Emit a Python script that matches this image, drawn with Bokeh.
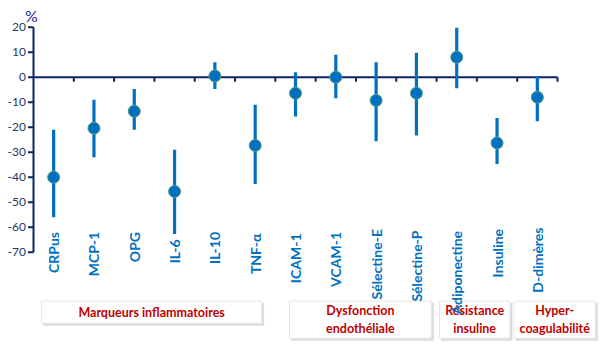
import math
from bokeh.plotting import figure
from bokeh.models import Range1d, ColumnDataSource
from bokeh.core.properties import value
from bokeh.embed import file_html
from bokeh.resources import INLINE

# ---- data ----
categories = ["CRPus", "MCP-1", "OPG", "IL-6", "IL-10", "TNF-\u03b1", "ICAM-1", "VCAM-1",
              "S\u00e9lectine-E", "S\u00e9lectine-P", "Adiponectine", "Insuline", "D-dim\u00e8res"]
means = [-40, -20.4, -13.6, -45.7, 0.5, -27.3, -6.4, 0, -9.3, -6.4, 8, -26.3, -8]
lower = [-56, -32, -21, -62.7, -4.7, -42.7, -15.7, -8.4, -25.6, -23.3, -4.4, -34.7, -17.6]
upper = [-21, -9, -4.7, -29, 6, -11, 2, 9, 6, 9.8, 19.8, -16.3, 0.4]
y_ticks = [20, 10, 0, -10, -20, -30, -40, -50, -60, -70]
y_tick_labels = ["20", "10", "0", "-10", "-20", "-30", "-40", "-50", "-60", "-70"]
groups = ["Marqueurs inflammatoires", "Dysfonction\nendoth\u00e9liale",
          "R\u00e9sistance\ninsuline", "Hyper-\ncoagulabilit\u00e9"]

BLUE = "#0070C0"
NAVY = "#0D2263"
RED = "#C00000"
FONT = "Lato"

# ---- layout constants (pixels -> data units) ----
PX_X = 40.31          # px per category
PX_Y = 2.5            # px per %
x_min = -33 / PX_X
x_max = 13 + 43 / PX_X
y_top = 20 + 26.7 / PX_Y
y_bot = -70 - (348 - 251.7) / PX_Y
# top of each rotated category label (pixel row in the original)
label_top_px = [231.5, 231.5, 231.5, 239, 231.5, 233, 233, 231.5, 228.5, 230, 230.5, 228.5, 227]

p = figure(width=600, height=348, output_backend="svg", toolbar_location=None,
           x_range=Range1d(x_min, x_max), y_range=Range1d(y_bot, y_top),
           min_border=0)
p.outline_line_color = None
p.grid.visible = False
p.axis.visible = False
p.background_fill_color = "white"
p.border_fill_color = "white"

n = len(categories)

# y axis (drawn at x=0)
p.segment(x0=[0], y0=[min(y_ticks)], x1=[0], y1=[max(y_ticks)], line_color=NAVY, line_width=2)
p.segment(x0=[0] * len(y_ticks), y0=y_ticks, x1=[-5.5 / PX_X] * len(y_ticks), y1=y_ticks,
          line_color=NAVY, line_width=2)
p.text(x=[-7.5 / PX_X] * len(y_ticks), y=y_ticks, text=y_tick_labels, text_align="right",
       text_baseline="middle", text_color="#1F3864", text_font=value(FONT),
       text_font_size="12px")
p.text(x=[-2 / PX_X], y=[20 + 11.7 / PX_Y], text=["%"], text_align="center",
       text_baseline="middle", text_color="#1E2A9A", text_font=value(FONT),
       text_font_size="16px")

# x axis at zero with ticks between categories
p.segment(x0=[0], y0=[0], x1=[n], y1=[0], line_color=NAVY, line_width=2)
p.segment(x0=list(range(1, n + 1)), y0=[0] * n, x1=list(range(1, n + 1)), y1=[-4.5 / PX_Y] * n,
          line_color=NAVY, line_width=2)

xs = [i + 0.5 for i in range(n)]
ltop = [20 - (py - 26.7) / PX_Y for py in label_top_px]
src = ColumnDataSource(dict(x=xs, m=means, lo=lower, hi=upper, cat=categories, lt=ltop))

# whiskers and markers
p.segment(x0="x", y0="lo", x1="x", y1="hi", source=src, line_color=BLUE, line_width=3.2)
p.scatter(x="x", y="m", source=src, size=12, fill_color=BLUE, line_color="#5B9B7B", line_width=1)

# group boxes (hand-placed as in the original)
box_l = [0.2, 6.35, 10.07, 11.92]
box_r = [5.66, 9.87, 11.82, 13.94]
box_t = [-89.6] * 4
box_b = [-98.4, -104.4, -104.4, -104.4]
p.quad(left=[l + 0.04 for l in box_l], right=[r + 0.06 for r in box_r],
       top=[t - 0.6 for t in box_t], bottom=[b - 1.0 for b in box_b],
       fill_color="#b8b8b8", fill_alpha=0.5, line_color=None)
p.quad(left=box_l, right=box_r, top=box_t, bottom=box_b,
       fill_color="white", line_color="#e6e6e6", line_width=1)
p.text(x=[(l + r) / 2 for l, r in zip(box_l, box_r)],
       y=[(t + b) / 2 for t, b in zip(box_t, box_b)],
       text=groups, text_align="center", text_baseline="middle", text_color=RED,
       text_font=value(FONT), text_font_style="bold", text_font_size="12.5px",
       text_line_height=1.2)

# category labels
p.text(x="x", y="lt", text="cat", source=src, angle=math.pi / 2,
       text_align="right", text_baseline="middle", text_color=BLUE,
       text_font=value(FONT), text_font_style="bold", text_font_size="14px")

open("out.html", "w").write(file_html(p, INLINE))
